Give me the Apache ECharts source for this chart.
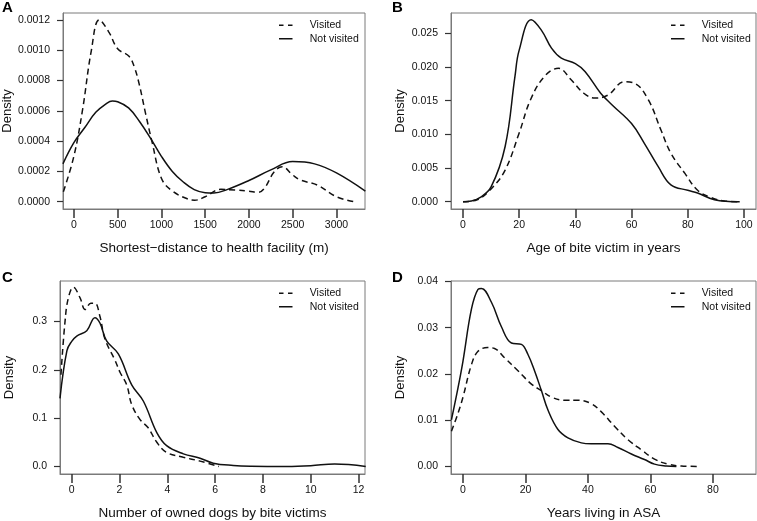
<!DOCTYPE html>
<html>
<head>
<meta charset="utf-8">
<script src="https://cdn.jsdelivr.net/npm/echarts@6/dist/echarts.min.js"></script>
<style>
  html, body { margin: 0; padding: 0; background: #fff; }
  #chart { width: 757px; height: 521px; }
</style>
</head>
<body>
<div id="chart"></div>
<script>
// Panel A: shortest distance to health facility (m)
const aVisitedX = [-120, 0, 100, 200, 290, 400, 500, 630, 690, 745, 820, 895, 1000, 1120, 1300, 1380, 1500, 1680, 1840, 2000, 2100, 2175, 2290, 2380, 2500, 2590, 2780, 3000, 3200];
const aVisitedY = [0.000066, 0.0003, 0.00061, 0.001, 0.0012, 0.00112, 0.00101, 0.00096, 0.00089, 0.00078, 0.00058, 0.00039, 0.000155, 0.000073, 0.000018, 0.00001, 0.000033, 0.000082, 0.000077, 0.00007, 0.000062, 0.000088, 0.000198, 0.000231, 0.000176, 0.000143, 0.00011, 0.000033, 0.0];
const aNotX = [-125, 0, 125, 250, 375, 440, 500, 625, 750, 875, 1000, 1125, 1250, 1375, 1500, 1600, 1750, 2000, 2250, 2500, 2750, 3000, 3330];
const aNotY = [0.00025, 0.00039, 0.00049, 0.00059, 0.00065, 0.000665, 0.00066, 0.00062, 0.00053, 0.00042, 0.0003, 0.0002, 0.00013, 0.00008, 0.00006, 0.000058, 0.00008, 0.00014, 0.00021, 0.000265, 0.00025, 0.00019, 0.00007];

// Panel B: age of bite victim in years
const bVisitedX = [0, 5, 10, 15, 20, 24, 29, 34, 38.5, 43, 47, 51.5, 57.5, 61, 66, 70.5, 74, 79, 83.5, 88.5, 93, 98.5];
const bVisitedY = [0, 0.0003, 0.0019, 0.0047, 0.0102, 0.0151, 0.0186, 0.0198, 0.0181, 0.0161, 0.0154, 0.0158, 0.0178, 0.0176, 0.0151, 0.0106, 0.0072, 0.0042, 0.0017, 0.0006, 0.0001, 0];
const bNotX = [0, 3, 6, 10, 15, 18.5, 20, 24.3, 28, 31.5, 35, 40, 43.5, 49, 53, 60, 64.5, 69.5, 74, 80, 83.5, 89.5, 98.5];
const bNotY = [0, 0.0001, 0.0006, 0.0022, 0.0082, 0.0186, 0.0225, 0.027, 0.0254, 0.0228, 0.0213, 0.0205, 0.0193, 0.0161, 0.0144, 0.0116, 0.0087, 0.0052, 0.0025, 0.0017, 0.0013, 0.0003, 0];

// Panel C: number of owned dogs by bite victims
const cVisitedX = [-0.45, -0.28, -0.14, 0.07, 0.35, 0.56, 0.8, 0.97, 1.18, 1.39, 1.81, 2.02, 2.3, 2.51, 2.86, 3.2, 3.56, 3.97, 4.67, 5.37, 6.15];
const cVisitedY = [0.19, 0.3, 0.349, 0.371, 0.349, 0.325, 0.338, 0.338, 0.311, 0.264, 0.22, 0.195, 0.169, 0.128, 0.097, 0.08, 0.05, 0.029, 0.019, 0.011, 0];
const cNotX = [-0.49, -0.2, 0, 0.21, 0.63, 0.97, 1.18, 1.46, 1.95, 2.51, 3.0, 3.56, 3.97, 4.67, 5.37, 5.92, 6.76, 7.5, 9, 10, 11, 12.3];
const cNotY = [0.141, 0.24, 0.259, 0.27, 0.281, 0.308, 0.297, 0.26, 0.233, 0.169, 0.135, 0.07, 0.043, 0.026, 0.017, 0.0067, 0.002, 0.0005, 0, 0.0015, 0.005, 0];

// Panel D: years living in ASA
const dVisitedX = [-3.7, -1.6, 0, 2.7, 4.8, 7.9, 10.1, 13.3, 17.6, 21.9, 25.1, 28.3, 32.5, 36.8, 41, 44.3, 48.5, 52.8, 57.1, 61.3, 65.6, 69.9, 75.7];
const dVisitedY = [0.0076, 0.0115, 0.015, 0.022, 0.0249, 0.0257, 0.0255, 0.0235, 0.0207, 0.0178, 0.0164, 0.015, 0.0143, 0.0143, 0.0136, 0.0118, 0.0087, 0.0058, 0.0036, 0.0016, 0.0005, 0.0001, 0];
const dNotX = [-3.7, -1.6, 0, 2.7, 4.8, 5.9, 9.1, 12.3, 15.5, 18.7, 20.8, 22.9, 25.1, 27.2, 30.4, 33.6, 37.9, 41, 46.4, 49.6, 53.9, 58.1, 61.3, 65.1, 68.3];
const dNotY = [0.0101, 0.017, 0.0228, 0.034, 0.0383, 0.0385, 0.0355, 0.0302, 0.0267, 0.0264, 0.0242, 0.0207, 0.0164, 0.0122, 0.008, 0.0062, 0.0051, 0.0049, 0.0049, 0.0041, 0.0027, 0.0015, 0.0005, 0.0001, 0];

// tick labels
const aXTicks = [0, 500, 1000, 1500, 2000, 2500, 3000];
const aYTicks = [0, 0.0002, 0.0004, 0.0006, 0.0008, 0.0010, 0.0012];
const bXTicks = [0, 20, 40, 60, 80, 100];
const bYTicks = [0, 0.005, 0.010, 0.015, 0.020, 0.025];
const cXTicks = [0, 2, 4, 6, 8, 10, 12];
const cYTicks = [0, 0.1, 0.2, 0.3];
const dXTicks = [0, 20, 40, 60, 80];
const dYTicks = [0, 0.01, 0.02, 0.03, 0.04];

const panelLetters = ['A', 'B', 'C', 'D'];
const xTitles = ['Shortest\u2212distance to health facility (m)', 'Age of bite victim in years',
  'Number of owned dogs by bite victims', 'Years living in ASA'];
const seriesNames = ['Visited', 'Not visited'];

const font = 'Liberation Sans, Arial, sans-serif';
const zip = (xs, ys) => xs.map((x, i) => [x, ys[i]]);

// legend keys drawn as short line segments (dashed / solid)
const legendIcons = {
  'Visited': 'path://M0,0h6v2h-6z M12,0h6v2h-6z',
  'Not visited': 'path://M0,0h18v2h-18z'
};

const panels = [
  { grid: { left: 60, top: 13 }, xr: [-124, 3326], yr: [-0.000048, 0.001246], xt: aXTicks, yt: aYTicks, yd: 4,
    vis: zip(aVisitedX, aVisitedY), not: zip(aNotX, aNotY), legend: [279, 19], letter: [2, 0] },
  { grid: { left: 451, top: 13 }, xr: [-4.27, 104.3], yr: [-0.00108, 0.02801], xt: bXTicks, yt: bYTicks, yd: 3,
    vis: zip(bVisitedX, bVisitedY), not: zip(bNotX, bNotY), legend: [671, 19], letter: [392, 0] },
  { grid: { left: 60, top: 281 }, xr: [-0.49, 12.27], yr: [-0.0157, 0.384], xt: cXTicks, yt: cYTicks, yd: 1,
    vis: zip(cVisitedX, cVisitedY), not: zip(cNotX, cNotY), legend: [279, 287], letter: [2, 270] },
  { grid: { left: 451, top: 281 }, xr: [-3.84, 93.8], yr: [-0.00163, 0.0401], xt: dXTicks, yt: dYTicks, yd: 2,
    vis: zip(dVisitedX, dVisitedY), not: zip(dNotX, dNotY), legend: [671, 287], letter: [392, 270] }
];

const option = {
  animation: false,
  backgroundColor: '#fff',
  title: [],
  legend: [],
  grid: [],
  xAxis: [],
  yAxis: [],
  series: []
};

panels.forEach((p, i) => {
  option.title.push({
    text: panelLetters[i], left: p.letter[0], top: p.letter[1], padding: 0,
    textStyle: { fontFamily: font, fontWeight: 'bold', fontSize: 15, color: '#000' }
  });
  option.grid.push({
    left: p.grid.left, top: p.grid.top, width: 305, height: 196,
    show: true, borderColor: '#7a7a7a', borderWidth: 1, backgroundColor: 'transparent'
  });
  option.legend.push({
    orient: 'vertical', left: p.legend[0], top: p.legend[1], padding: 0,
    itemWidth: 18, itemHeight: 1.5, itemGap: 1,
    data: seriesNames.map(n => ({ name: n, icon: legendIcons[n] })),
    textStyle: { fontFamily: font, fontSize: 10.5, color: '#111', lineHeight: 12.5, padding: [0, 0, 0, 10] }
  });
  option.xAxis.push({
    type: 'value', gridIndex: i, min: p.xr[0], max: p.xr[1],
    name: xTitles[i], nameLocation: 'middle', nameGap: 32,
    nameTextStyle: { fontFamily: font, fontSize: 13.5, color: '#111' },
    axisLine: { show: true, onZero: false, lineStyle: { color: '#7a7a7a', width: 1 } },
    splitLine: { show: false },
    axisTick: { show: true, length: 9, customValues: p.xt, lineStyle: { color: '#333', width: 1.5 } },
    axisLabel: { customValues: p.xt, margin: 11, fontFamily: font, fontSize: 10.5, color: '#111',
      formatter: v => String(v) }
  });
  option.yAxis.push({
    type: 'value', gridIndex: i, min: p.yr[0], max: p.yr[1],
    name: 'Density', nameLocation: 'middle', nameGap: 44,
    nameTextStyle: { fontFamily: font, fontSize: 13, color: '#111' },
    axisLine: { show: true, onZero: false, lineStyle: { color: '#7a7a7a', width: 1 } },
    splitLine: { show: false },
    axisTick: { show: true, length: 6, customValues: p.yt, lineStyle: { color: '#333', width: 1.2 } },
    axisLabel: { customValues: p.yt, margin: 13, fontFamily: font, fontSize: 10.5, color: '#111',
      formatter: v => v.toFixed(p.yd) }
  });
  option.series.push({
    name: 'Visited', type: 'line', xAxisIndex: i, yAxisIndex: i,
    data: p.vis, smooth: 0.4, symbol: 'none',
    lineStyle: { color: '#111', width: 1.5, type: [6, 4] }, itemStyle: { color: '#111' }
  });
  option.series.push({
    name: 'Not visited', type: 'line', xAxisIndex: i, yAxisIndex: i,
    data: p.not, smooth: 0.4, symbol: 'none',
    lineStyle: { color: '#111', width: 1.5, type: 'solid' }, itemStyle: { color: '#111' }
  });
});

const chart = echarts.init(document.getElementById('chart'), null, { renderer: 'canvas' });
chart.setOption(option);
</script>
</body>
</html>
